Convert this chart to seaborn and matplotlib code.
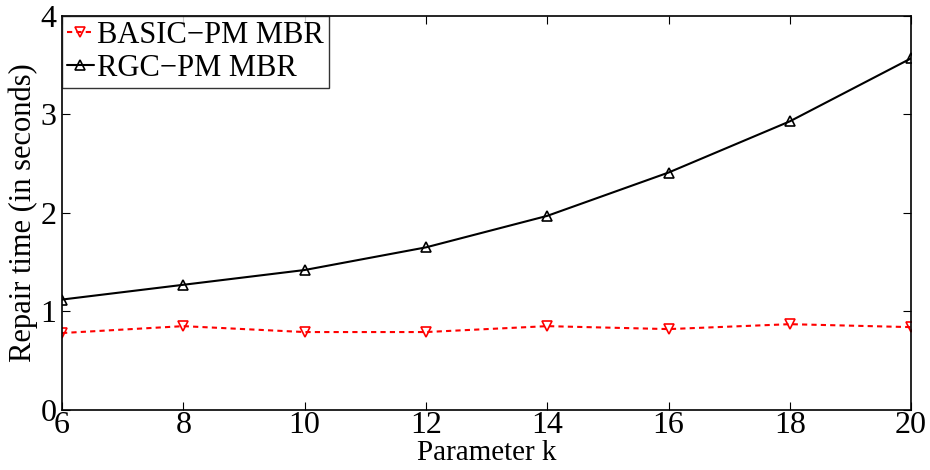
import matplotlib
matplotlib.use("Agg")
import matplotlib.pyplot as plt
import seaborn as sns
import pandas as pd

k_values = [6, 8, 10, 12, 14, 16, 18, 20]
basic_pm_mbr = [0.78, 0.85, 0.79, 0.79, 0.85, 0.82, 0.87, 0.84]
rgc_pm_mbr = [1.12, 1.27, 1.42, 1.65, 1.97, 2.41, 2.93, 3.57]
series_names = ["BASIC\u2212PM MBR", "RGC\u2212PM MBR"]

df = pd.DataFrame({
    "k": k_values * 2,
    "time": basic_pm_mbr + rgc_pm_mbr,
    "scheme": [series_names[0]] * len(k_values) + [series_names[1]] * len(k_values),
})

sns.set_style("white")
plt.rcParams["font.family"] = ["Liberation Serif", "DejaVu Serif"]
plt.rcParams["text.color"] = "black"
plt.rcParams["axes.labelcolor"] = "black"
plt.rcParams["xtick.color"] = "black"
plt.rcParams["ytick.color"] = "black"

fig = plt.figure(figsize=(9.3, 4.7), dpi=100)
ax = fig.add_axes([0.0667, 0.128, 0.913, 0.838])

sns.lineplot(
    data=df, x="k", y="time", hue="scheme", style="scheme",
    palette={series_names[0]: "red", series_names[1]: "black"},
    dashes={series_names[0]: (2.5, 2), series_names[1]: ""},
    markers={series_names[0]: "v", series_names[1]: "^"},
    markersize=7, markerfacecolor="none", markeredgewidth=1.2,
    linewidth=1.5, ax=ax,
)
for line, c in zip(ax.get_lines()[:2], ["red", "black"]):
    line.set_markeredgecolor(c)
    line.set_markerfacecolor("none")

ax.set_xlim(6, 20)
ax.set_ylim(0, 4)
ax.set_xticks(k_values)
ax.set_yticks([0, 1, 2, 3, 4])
ax.tick_params(direction="in", length=6, width=0.8, labelsize=23,
               colors="black", top=True, right=True, bottom=True, left=True, pad=4)
ax.tick_params(axis="x", pad=1)
for s in ax.spines.values():
    s.set_color("black")
    s.set_linewidth(1.2)
ax.set_xlabel("Parameter k", fontsize=21, labelpad=0, color="black")
ax.set_ylabel("Repair time (in seconds)", fontsize=22, labelpad=2, color="black")

handles, labels = ax.get_legend_handles_labels()
for h, c in zip(handles, ["red", "black"]):
    h.set_markerfacecolor("none")
    h.set_markeredgecolor(c)
leg = ax.legend(handles, labels, loc="upper left", fontsize=22, frameon=True,
                fancybox=False, edgecolor="black", handlelength=0.9,
                handletextpad=0.1, borderpad=0.15, labelspacing=0.15,
                borderaxespad=0.0)
leg.get_frame().set_linewidth(1.0)
for t in leg.get_texts():
    t.set_color("black")

fig.savefig("out.png", dpi=100)
